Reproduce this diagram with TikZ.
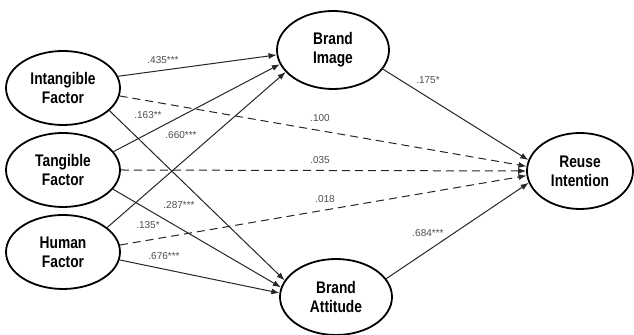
\documentclass[tikz,border=0pt]{standalone}
\usepackage{fontspec}
\setmainfont{Liberation Sans}
\newfontfamily\latentfont[FakeStretch=0.82]{Liberation Sans}
\usetikzlibrary{arrows.meta,positioning,shapes.geometric}

\begin{document}
\begin{tikzpicture}[
        x=0.5pt, y=-0.5pt,
        latent/.style = {draw, ellipse, line width=0.9pt, inner sep=0pt, align=center,
                         minimum width=57pt, minimum height=37pt,
                         font=\latentfont\fontsize{8.4}{9.5}\selectfont\bfseries},
        coef/.style   = {inner sep=0pt, text=black!70, font=\fontsize{5}{6}\selectfont},
        path/.style   = {draw=black!85, line width=0.5pt, -{Latex[length=4pt,width=3pt]}},
        dpath/.style  = {path, dash pattern=on 4pt off 2.5pt},
        >=latex]

        \useasboundingbox (0,0) rectangle (634,335);

        % exogenous factors, left column
        \node[latent] (int) at (63,88)  {Intangible\\Factor};
        \node[latent] (tan) at (63,170) {Tangible\\Factor};
        \node[latent] (hum) at (63,252) {Human\\Factor};

        % mediators and outcome
        \node[latent, minimum width=56pt, minimum height=39pt] (img) at (333,50)  {Brand\\Image};
        \node[latent, minimum width=56pt, minimum height=38pt] (att) at (336,297) {Brand\\Attitude};
        \node[latent, minimum width=53pt, minimum height=38pt] (reu) at (580,171) {Reuse\\Intention};

        % paths to brand image
        \draw[path] (int.12) -- (img.185);
        \draw[path] (tan.20) -- (img.195);
        \draw[path] (hum.29) -- (img.205);

        % paths to brand attitude
        \draw[path] (int.334) -- (att.162);
        \draw[path] (tan.339) -- (att.170);
        \draw[path] (hum.352) -- (att.176);

        % direct paths to reuse intention (not significant)
        \foreach \src/\a/\b in {int/352/175, tan/0/180, hum/7/185}
        \draw[dpath] (\src.\a) -- (reu.\b);

        % mediators to reuse intention
        \draw[path] (img.339) -- (reu.168);
        \draw[path] (att.20) -- (reu.193);

        % path coefficients
        \node[coef] (c1)  at (163,60)  {.435***};
        \node[coef] (c2)  at (148,115) {.163**};
        \node[coef] (c3)  at (181,135) {.660***};
        \node[coef] (c4)  at (179,205) {.287***};
        \node[coef] (c5)  at (148,225) {.135*};
        \node[coef] (c6)  at (164,256) {.676***};
        \node[coef] (c7)  at (320,118) {.100};
        \node[coef] (c8)  at (320,160) {.035};
        \node[coef] (c9)  at (325,199) {.018};
        \node[coef] (c10) at (428,80)  {.175*};
        \node[coef] (c11) at (428,233) {.684***};

    \end{tikzpicture}
\end{document}
